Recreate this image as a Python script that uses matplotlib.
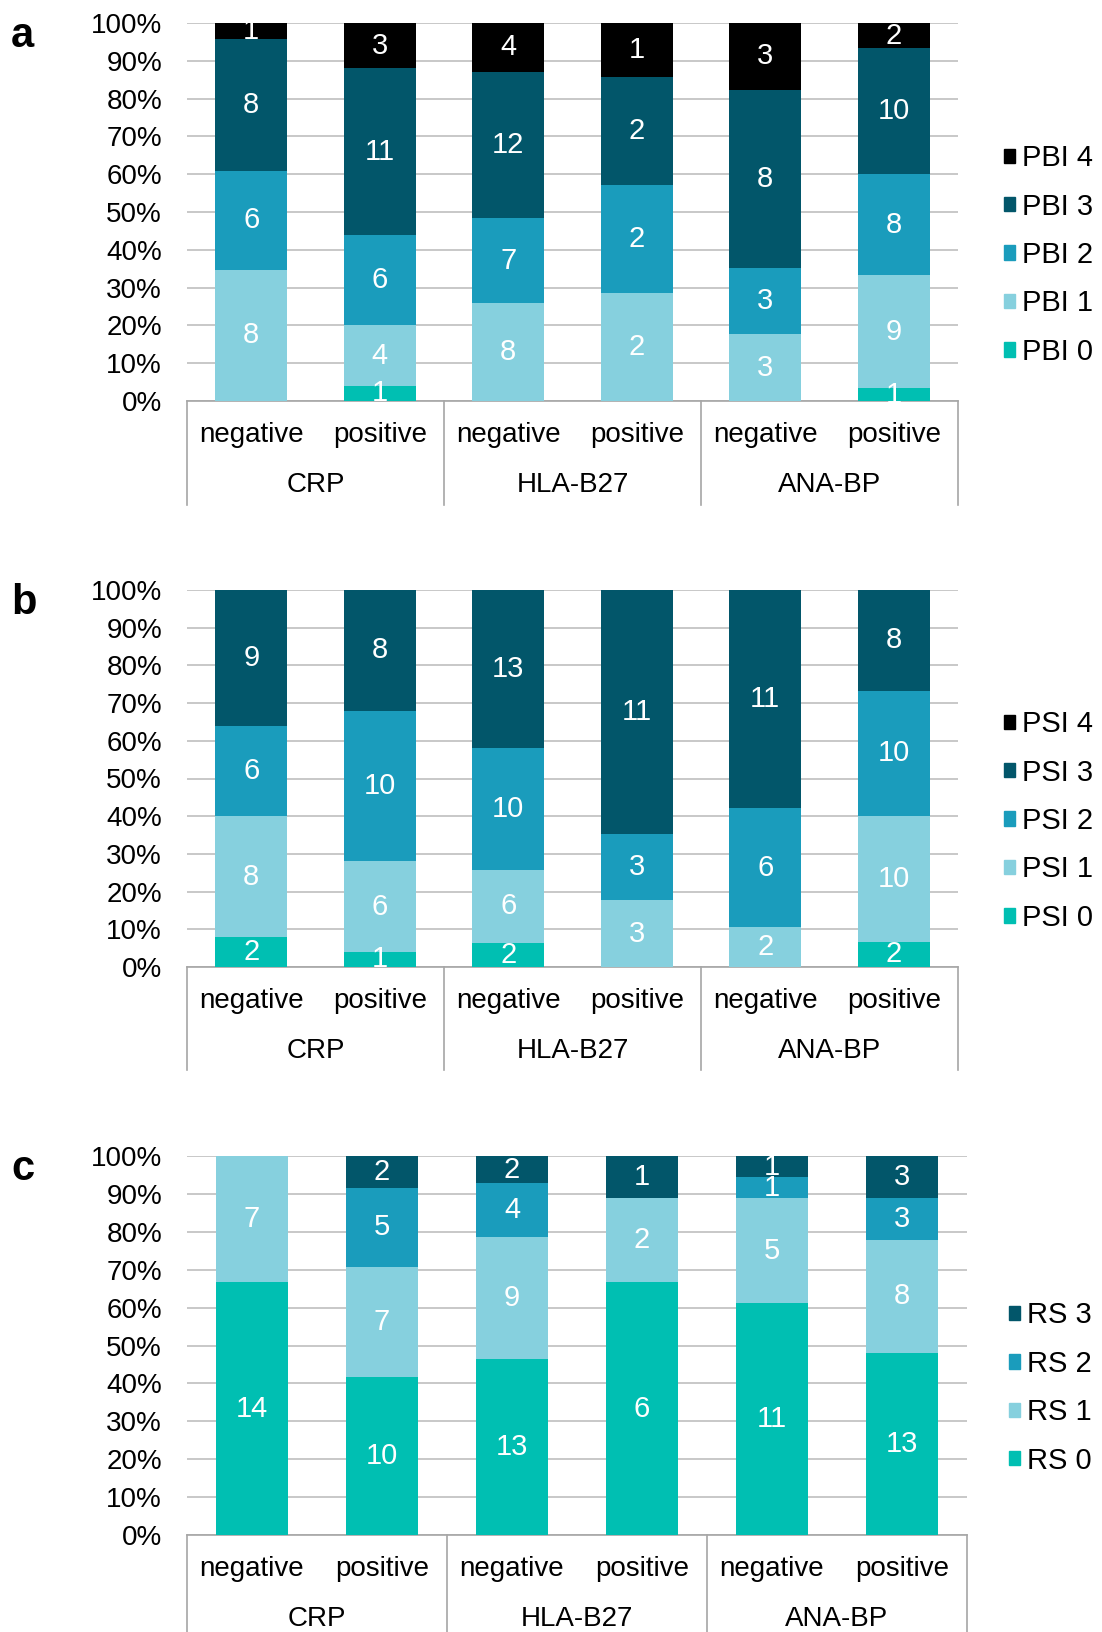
import numpy as np
import matplotlib
matplotlib.use("Agg")
import matplotlib.pyplot as plt
from matplotlib.patches import Patch
from matplotlib.lines import Line2D
from matplotlib.transforms import blended_transform_factory

plt.rcParams['font.family'] = ['Liberation Sans', 'DejaVu Sans']

groups = ['CRP', 'HLA-B27', 'ANA-BP']
subgroups = ['negative', 'positive']
yticks = [0, 10, 20, 30, 40, 50, 60, 70, 80, 90, 100]

# counts, order: CRP neg, CRP pos, HLA-B27 neg, HLA-B27 pos, ANA-BP neg, ANA-BP pos
pbi_names = ['PBI 0', 'PBI 1', 'PBI 2', 'PBI 3', 'PBI 4']
pbi_0 = [0, 1, 0, 0, 0, 1]
pbi_1 = [8, 4, 8, 2, 3, 9]
pbi_2 = [6, 6, 7, 2, 3, 8]
pbi_3 = [8, 11, 12, 2, 8, 10]
pbi_4 = [1, 3, 4, 1, 3, 2]

psi_names = ['PSI 0', 'PSI 1', 'PSI 2', 'PSI 3', 'PSI 4']
psi_0 = [2, 1, 2, 0, 0, 2]
psi_1 = [8, 6, 6, 3, 2, 10]
psi_2 = [6, 10, 10, 3, 6, 10]
psi_3 = [9, 8, 13, 11, 11, 8]
psi_4 = [0, 0, 0, 0, 0, 0]

rs_names = ['RS 0', 'RS 1', 'RS 2', 'RS 3']
rs_0 = [14, 10, 13, 6, 11, 13]
rs_1 = [7, 7, 9, 2, 5, 8]
rs_2 = [0, 5, 4, 0, 1, 3]
rs_3 = [0, 2, 2, 1, 1, 3]

colors = ['#00BFB2', '#86D0DE', '#1A9CBC', '#02566A', '#000000']

W, H = 1102, 1632
fig = plt.figure(figsize=(W / 100, H / 100), dpi=100)
FS = 20


def panel(box, series, names, letter, sep_bottom, leg_x, leg_y):
    left, top, right, bottom = box
    ax = fig.add_axes([left / W, 1 - bottom / H, (right - left) / W, (bottom - top) / H])
    data = np.array(series, dtype=float)
    pct = data / data.sum(axis=0) * 100
    x = np.arange(data.shape[1])
    base = np.zeros(data.shape[1])
    handles = []
    for k in range(data.shape[0]):
        ax.bar(x, pct[k], 0.56, bottom=base, color=colors[k], zorder=3)
        for i in range(len(x)):
            if data[k, i] > 0:
                ax.text(x[i], base[i] + pct[k, i] / 2, '%d' % data[k, i], ha='center',
                        va='center', color='white', fontsize=FS + 1, zorder=4)
        base += pct[k]
        handles.append(Patch(color=colors[k], label=names[k]))
    ax.set_xlim(-0.5, len(x) - 0.5)
    ax.set_ylim(0, 100)
    ax.set_yticks(yticks)
    ax.set_yticklabels(['%d%%' % t for t in yticks])
    ax.tick_params(axis='y', length=0, pad=18, labelsize=FS)
    ax.set_xticks([])
    ax.grid(axis='y', color='#BFBFBF', lw=1.2, zorder=0)
    for s in ['left', 'right', 'top']:
        ax.spines[s].set_visible(False)
    ax.spines['bottom'].set_color('#A6A6A6')
    ax.spines['bottom'].set_linewidth(1.2)

    ph = bottom - top
    tr = blended_transform_factory(ax.transData, ax.transAxes)
    for xs in [-0.5, 1.5, 3.5, 5.5]:
        ax.add_line(Line2D([xs, xs], [0, -(sep_bottom - bottom) / ph], transform=tr,
                           color='#A6A6A6', lw=1.2, clip_on=False))
    for i in range(len(x)):
        ax.text(x[i], -34 / ph, subgroups[i % 2], transform=tr, ha='center', va='center',
                fontsize=FS)
    for g in range(len(groups)):
        ax.text(2 * g + 0.5, -84 / ph, groups[g], transform=tr, ha='center', va='center',
                fontsize=FS)

    ax.legend(handles[::-1], names[::-1], loc='center left',
              bbox_to_anchor=(leg_x / W, 1 - leg_y / H), bbox_transform=fig.transFigure,
              frameon=False, fontsize=FS + 1, handlelength=0.38, handleheight=0.38,
              handletextpad=0.25, labelspacing=0.7, borderpad=0, borderaxespad=0)
    fig.text(11 / W, 1 - (top + 24) / H, letter, fontsize=30, weight='bold', va='baseline')


panel((187, 23, 958, 401), [pbi_0, pbi_1, pbi_2, pbi_3, pbi_4], pbi_names, 'a', 505, 1004, 255)
panel((187, 590, 958, 967), [psi_0, psi_1, psi_2, psi_3, psi_4], psi_names, 'b', 1070, 1004, 821)
panel((187, 1156, 967, 1535), [rs_0, rs_1, rs_2, rs_3], rs_names, 'c', 1640, 1009, 1388)

fig.savefig('out.png', dpi=100)
